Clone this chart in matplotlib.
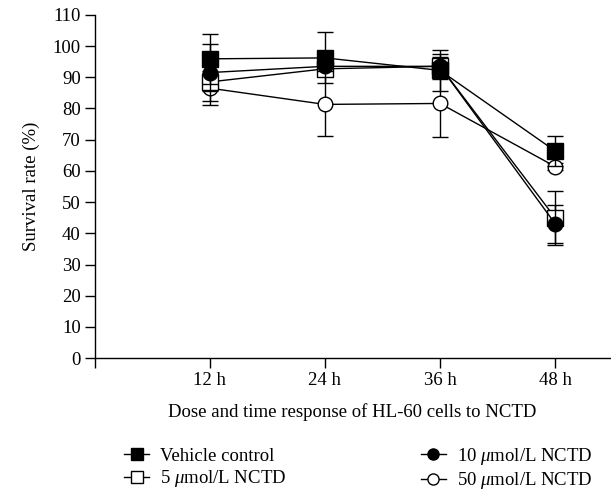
import matplotlib.pyplot as plt
from matplotlib.lines import Line2D
import numpy as np

plt.rcParams['font.family'] = ['Liberation Serif', 'DejaVu Serif']
plt.rcParams['mathtext.fontset'] = 'custom'
plt.rcParams['mathtext.it'] = 'Liberation Serif:italic'
plt.rcParams['mathtext.rm'] = 'Liberation Serif'

# time points (h)
hours = [12, 24, 36, 48]
hour_labels = ["12 h", "24 h", "36 h", "48 h"]

# survival rate (%)
vehicle = [95.9, 96.2, 92.2, 66.4]
vehicle_err = [8.0, 8.2, 6.6, 4.9]
nctd_5 = [88.5, 92.7, 93.5, 45.0]
nctd_5_err = [3.0, 2.3, 3.0, 8.7]
nctd_10 = [91.5, 93.5, 93.5, 43.1]
nctd_10_err = [9.0, 1.5, 4.0, 6.1]
nctd_50 = [86.5, 81.3, 81.6, 61.4]
nctd_50_err = [5.4, 10.1, 10.8, 1.0]

FS = 13.5

fig = plt.figure(figsize=(6.11, 4.94), dpi=100)
ax = fig.add_axes([0.155, 0.275, 0.843, 0.695])

common = dict(color='black', lw=1.0, capsize=5.8, elinewidth=1.0, capthick=1.0,
              markeredgecolor='black', markeredgewidth=1.0)

ax.errorbar(hours, vehicle, yerr=vehicle_err, marker='s', ms=11.5, markerfacecolor='black',
            zorder=5, **common)
ax.errorbar(hours, nctd_5, yerr=nctd_5_err, marker='s', ms=11.5, markerfacecolor='white',
            zorder=3, **common)
ax.errorbar(hours, nctd_10, yerr=nctd_10_err, marker='o', ms=10.5, markerfacecolor='black',
            zorder=4, **common)
ax.errorbar(hours, nctd_50, yerr=nctd_50_err, marker='o', ms=10.5, markerfacecolor='white',
            zorder=2, **common)

ax.set_xlim(0, 53.7)
ax.set_ylim(0, 110)
ax.set_yticks(np.arange(0, 111, 10))
ax.set_xticks([0] + hours)
ax.set_xticklabels([''] + hour_labels)

for s in ['top', 'right']:
    ax.spines[s].set_visible(False)
for s in ['left', 'bottom']:
    ax.spines[s].set_linewidth(1.0)
ax.tick_params(direction='out', length=7, width=1.0, labelsize=FS, pad=3)

ax.set_ylabel('Survival rate (%)', fontsize=FS, labelpad=9)
ax.set_xlabel('Dose and time response of HL-60 cells to NCTD', fontsize=FS, labelpad=10)

handles = [
    Line2D([], [], color='black', lw=1.0, marker='s', ms=8, mfc='black', mec='black'),
    Line2D([], [], color='black', lw=1.0, marker='s', ms=8, mfc='white', mec='black'),
    Line2D([], [], color='black', lw=1.0, marker='o', ms=8, mfc='black', mec='black'),
    Line2D([], [], color='black', lw=1.0, marker='o', ms=8, mfc='white', mec='black'),
]
labels = ['Vehicle control', r'5 $\mathit{\mu}$mol/L NCTD',
          r'10 $\mathit{\mu}$mol/L NCTD', r'50 $\mathit{\mu}$mol/L NCTD']
fig.legend(handles, labels, ncol=2, loc='upper left', bbox_to_anchor=(0.176, 0.132),
           frameon=False, fontsize=FS, handlelength=1.3,
           columnspacing=7.2, labelspacing=0.2, handletextpad=0.6)

fig.savefig('out.png', dpi=100)
